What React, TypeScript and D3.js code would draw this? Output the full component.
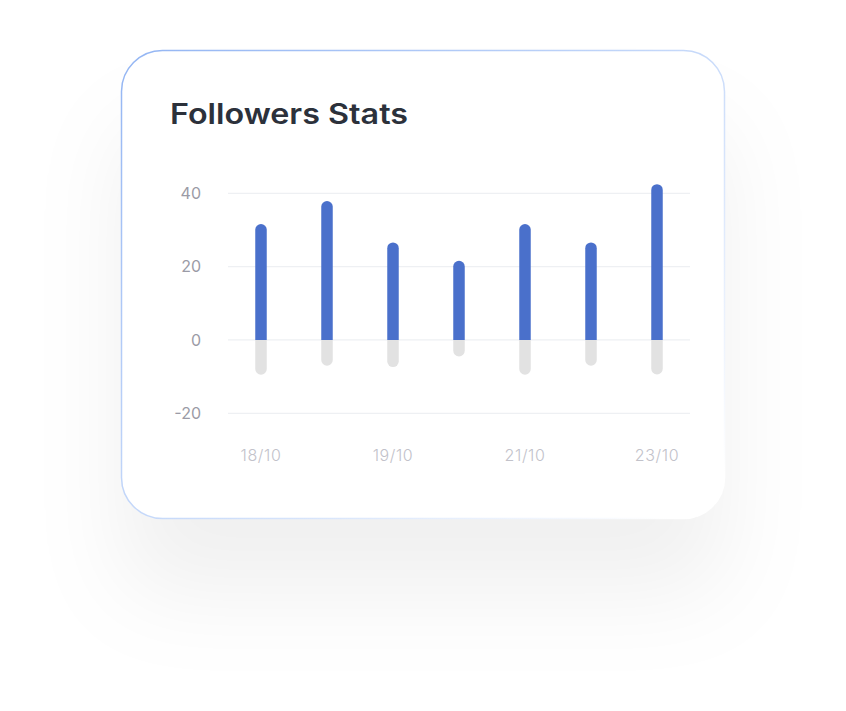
import React from "react";
import * as d3 from "d3";

const categories = ["18/10", "18/10 b", "19/10", "19/10 b", "21/10", "21/10 b", "23/10"];
const xTickLabels = ["18/10", "", "19/10", "", "21/10", "", "23/10"];
const gainValues = [31.6, 37.9, 26.6, 21.6, 31.6, 26.6, 42.5];
const lossValues = [-9.5, -7.0, -7.4, -4.5, -9.5, -7.0, -9.4];
const yTicks = [-20, 0, 20, 40];

const W = 846;
const H = 711;

export default function App() {
  const x = d3.scaleBand<string>().domain(categories).range([228, 690]);
  const y = d3.scaleLinear().domain([-20, 40]).range([413.3, 193.3]);
  const bw = 11.5;
  const r = bw / 2;

  const topRounded = (cx: number, v: number) => {
    const p = d3.path();
    const y0 = y(0);
    const y1 = y(v);
    p.moveTo(cx - r, y0);
    p.lineTo(cx - r, y1 + r);
    p.arc(cx, y1 + r, r, Math.PI, 0);
    p.lineTo(cx + r, y0);
    p.closePath();
    return p.toString();
  };
  const bottomRounded = (cx: number, v: number) => {
    const p = d3.path();
    const y0 = y(0);
    const y1 = y(v);
    p.moveTo(cx - r, y0);
    p.lineTo(cx - r, y1 - r);
    p.arc(cx, y1 - r, r, Math.PI, 0, true);
    p.lineTo(cx + r, y0);
    p.closePath();
    return p.toString();
  };

  return (
    <svg
      width={W}
      height={H}
      style={{ position: "absolute", left: 0, top: 0, background: "#fff" }}
    >
      <defs>
        <filter id="sh" x="-50%" y="-50%" width="200%" height="200%">
          <feDropShadow dx="0" dy="75" stdDeviation="45" floodColor="#000" floodOpacity="0.06" />
        </filter>
        <linearGradient id="bd" x1="0" y1="0" x2="1" y2="0.9">
          <stop offset="0" stopColor="#93b5f3" />
          <stop offset="0.55" stopColor="#c9dbfa" />
          <stop offset="1" stopColor="#ffffff" />
        </linearGradient>
      </defs>
      <rect x={121.5} y={50.5} width={603} height={468} rx={41} fill="#fff" filter="url(#sh)" />
      <rect x={121.5} y={50.5} width={603} height={468} rx={41} fill="#fff" stroke="url(#bd)" strokeWidth={1.5} />
      <text
        x={170}
        y={124}
        fontFamily="Inter, 'Open Sans', sans-serif"
        fontWeight={600}
        fontSize={28}
        fill="#2c313b"
        textLength={238}
        lengthAdjust="spacingAndGlyphs"
      >
        Followers Stats
      </text>
      {yTicks.map((t) => (
        <g key={t}>
          <line x1={228} x2={690} y1={y(t)} y2={y(t)} stroke="#eef0f3" strokeWidth={1.2} />
          <text
            x={201}
            y={y(t)}
            dy="0.36em"
            textAnchor="end"
            fontFamily="Inter, sans-serif"
            fontSize={16}
            fill="#9b9ba6"
          >
            {t}
          </text>
        </g>
      ))}
      {categories.map((c, i) => {
        const cx = (x(c) as number) + x.bandwidth() / 2;
        return (
          <g key={c}>
            <path d={bottomRounded(cx, lossValues[i])} fill="#e2e2e2" />
            <path d={topRounded(cx, gainValues[i])} fill="#4a70cb" />
            {xTickLabels[i] && (
              <text
                x={cx}
                y={455}
                dy="0.36em"
                textAnchor="middle"
                fontFamily="Inter, sans-serif"
                fontSize={16}
                fontWeight={300}
                letterSpacing={0.6}
                fill="#c2c2ca"
              >
                {xTickLabels[i]}
              </text>
            )}
          </g>
        );
      })}
    </svg>
  );
}
